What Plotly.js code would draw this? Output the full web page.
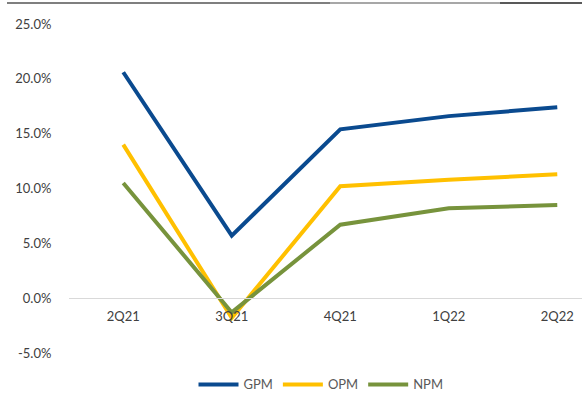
<!DOCTYPE html>
<html>
<head>
<meta charset="utf-8">
<script src="https://cdn.plot.ly/plotly-3.0.1.min.js"></script>
<style>html,body{margin:0;padding:0;background:#fff;}#chart{width:582px;height:403px;}</style>
</head>
<body>
<div id="chart"></div>
<script>
const categories = ["2Q21", "3Q21", "4Q21", "1Q22", "2Q22"];
const gpm = [20.6, 5.7, 15.4, 16.6, 17.4];
const opm = [14.0, -1.8, 10.2, 10.8, 11.3];
const npm = [10.5, -1.3, 6.7, 8.2, 8.5];
const yTicks = [-5, 0, 5, 10, 15, 20, 25];

const L = 69, W = 582, H = 403, T = 24, B = 50;
const plotW = W - L, plotH = H - T - B;
const fontFam = "Lato, 'Open Sans', 'Liberation Sans', sans-serif";

function tr(name, y, color) {
  return {
    type: "scatter", mode: "lines", name: name,
    x: categories, y: y,
    line: {color: color, width: 4}
  };
}

const data = [
  tr("GPM", gpm, "#0a4a8f"),
  tr("OPM", opm, "#ffc000"),
  tr("NPM", npm, "#77933c")
];

const py = v => 1 + (T - v) / plotH;
const px = v => (v - L) / plotW;

const layout = {
  width: W, height: H,
  margin: {l: L, r: 0, t: T, b: B},
  paper_bgcolor: "#fff", plot_bgcolor: "#fff",
  font: {family: fontFam, size: 13, color: "#404040"},
  showlegend: true,
  legend: {
    orientation: "h", x: px(321), xanchor: "center",
    y: -0.05, yanchor: "top",
    font: {size: 13, color: "#595959"},
    itemwidth: 40, tracegroupgap: 0
  },
  xaxis: {
    type: "category",
    range: [-0.5, 4.228],
    anchor: "free", position: 5 / 30,
    showline: true, linecolor: "#d9d9d9", linewidth: 1,
    showgrid: false, zeroline: false,
    ticks: "outside", ticklen: 6, tickcolor: "rgba(0,0,0,0)",
    tickfont: {size: 13, color: "#404040"},
    fixedrange: true
  },
  yaxis: {
    range: [-5, 25],
    tickvals: yTicks,
    ticktext: yTicks.map(v => v.toFixed(1) + "%"),
    showgrid: false, zeroline: false, showline: false,
    ticks: "outside", ticklen: 14, tickcolor: "rgba(0,0,0,0)",
    tickfont: {size: 13, color: "#404040"},
    fixedrange: true
  },
  shapes: [
    {type: "line", xref: "paper", yref: "paper", x0: px(7), x1: px(330), y0: py(3), y1: py(3), line: {color: "#555555", width: 1.5}},
    {type: "line", xref: "paper", yref: "paper", x0: px(330), x1: px(500), y0: py(3), y1: py(3), line: {color: "#8a8a8a", width: 1.5}},
    {type: "line", xref: "paper", yref: "paper", x0: px(500), x1: px(582), y0: py(3), y1: py(3), line: {color: "#222222", width: 1.5}}
  ]
};

Plotly.newPlot("chart", data, layout, {displayModeBar: false, staticPlot: true});
</script>
</body>
</html>
